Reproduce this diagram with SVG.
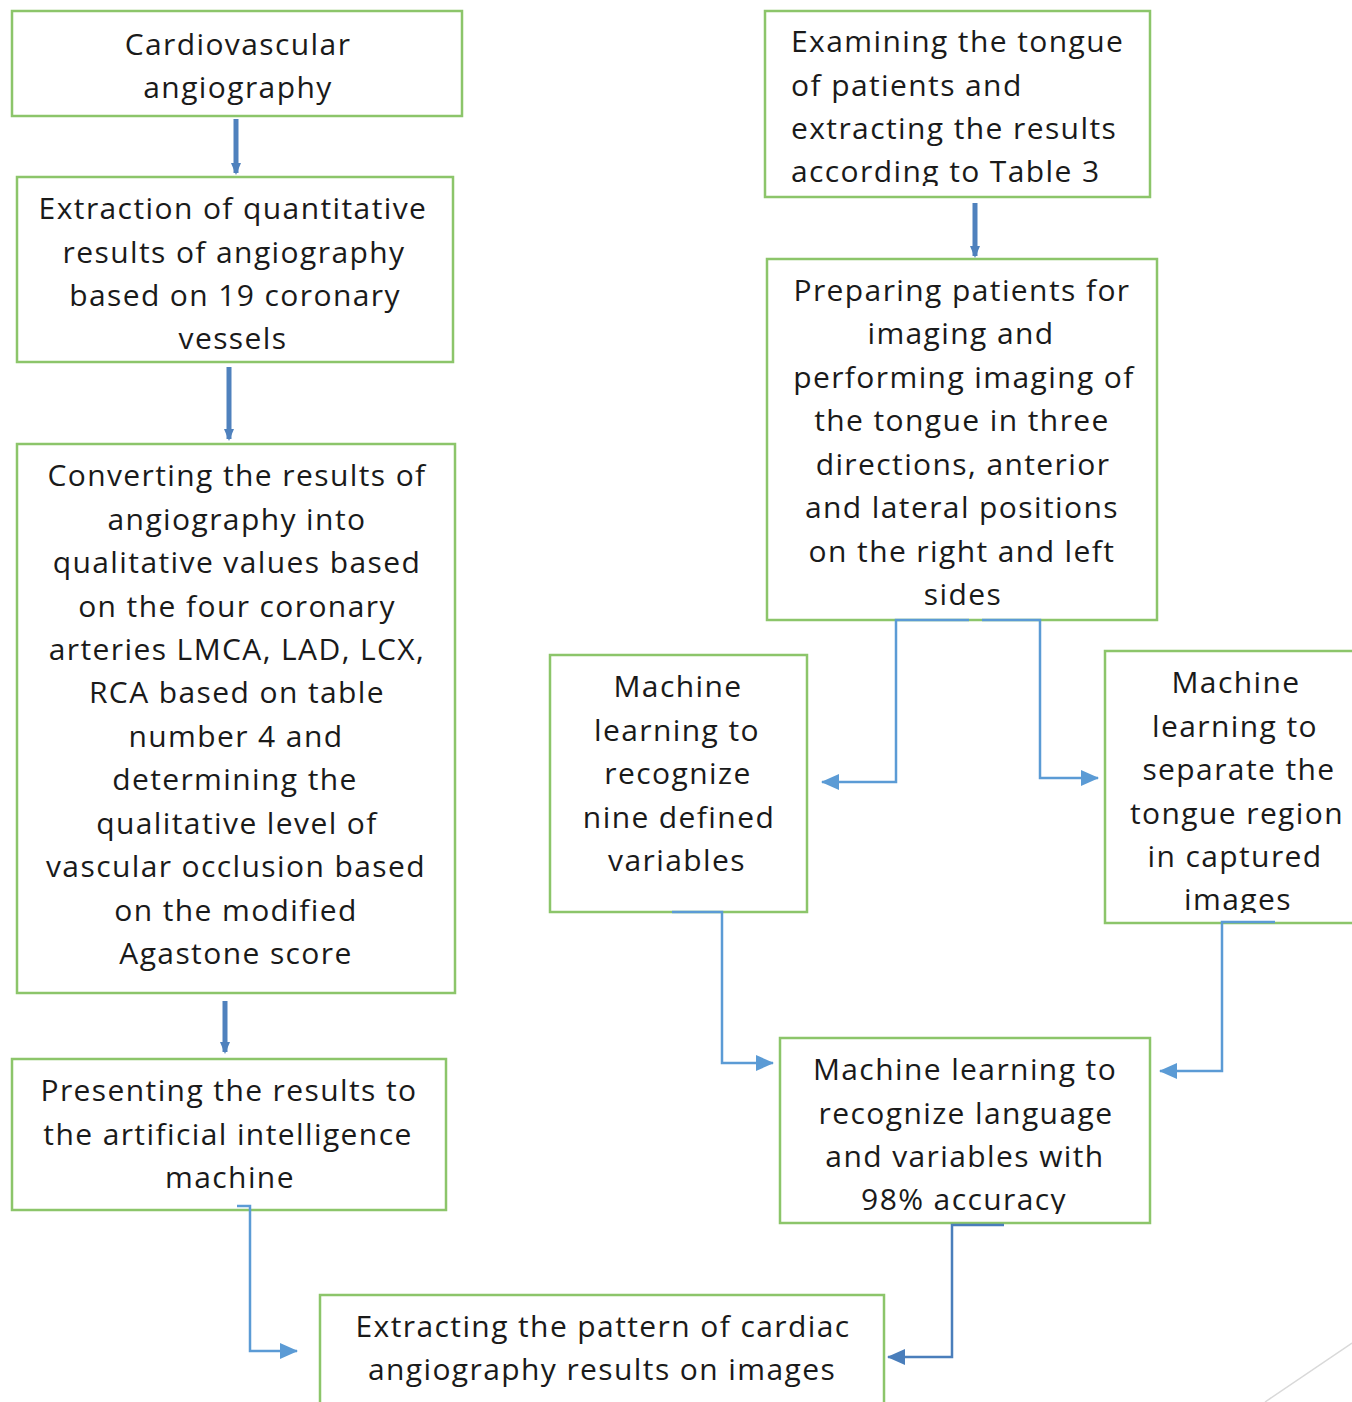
<svg xmlns="http://www.w3.org/2000/svg" width="1352" height="1402" viewBox="0 0 1352 1402">
<style>
.box{fill:#fff;stroke:#8cc56a;stroke-width:2.5}
.t{font-family:"Open Sans",Lato,sans-serif;font-size:30px;letter-spacing:1.4px;fill:#1a1a1a;text-anchor:middle}
.tl{font-family:"Open Sans",Lato,sans-serif;font-size:30px;letter-spacing:1.4px;fill:#1a1a1a}
.thick{stroke:#4f81bd;stroke-width:5;fill:none}
.thin{stroke:#5b9bd5;stroke-width:2.5;fill:none}
.dark{stroke:#4a7ebb;stroke-width:2.5;fill:none}
</style>
<defs>
<marker id="ahThick" markerWidth="12" markerHeight="10" refX="10" refY="5" orient="auto" markerUnits="userSpaceOnUse"><path d="M0,0 L12,5 L0,10 z" fill="#4f81bd"/></marker>
<marker id="ahThin" markerWidth="18" markerHeight="16" refX="17" refY="8" orient="auto" markerUnits="userSpaceOnUse"><path d="M0,0 L18,8 L0,16 z" fill="#5b9bd5"/></marker>
<marker id="ahDark" markerWidth="18" markerHeight="16" refX="17" refY="8" orient="auto" markerUnits="userSpaceOnUse"><path d="M0,0 L18,8 L0,16 z" fill="#4a7ebb"/></marker>
<clipPath id="cR1"><rect x="765" y="11" width="386" height="175"/></clipPath>
<clipPath id="cM2"><rect x="1105" y="651" width="247" height="262"/></clipPath>
<clipPath id="cM3"><rect x="780" y="1038" width="371" height="176"/></clipPath>
</defs>

<g id="n1">
<rect class="box" x="12" y="11" width="450" height="105"/>
<text class="t" x="238" y="55">Cardiovascular</text>
<text class="t" x="238" y="98">angiography</text>
</g>

<g id="n2">
<rect class="box" x="17" y="177" width="436" height="185"/>
<text class="t" x="233" y="219">Extraction of quantitative</text>
<text class="t" x="234" y="263">results of angiography</text>
<text class="t" x="235" y="306">based on 19 coronary</text>
<text class="t" x="233" y="349">vessels</text>
</g>

<g id="n3">
<rect class="box" x="17" y="444" width="438" height="549"/>
<text class="t" x="237" y="486">Converting the results of</text>
<text class="t" x="237" y="530">angiography into</text>
<text class="t" x="237" y="573">qualitative values based</text>
<text class="t" x="237" y="617">on the four coronary</text>
<text class="t" x="237" y="660">arteries LMCA, LAD, LCX,</text>
<text class="t" x="237" y="703">RCA based on table</text>
<text class="t" x="236" y="747">number 4 and</text>
<text class="t" x="235" y="790">determining the</text>
<text class="t" x="237" y="834">qualitative level of</text>
<text class="t" x="236" y="877">vascular occlusion based</text>
<text class="t" x="236" y="921">on the modified</text>
<text class="t" x="236" y="964">Agastone score</text>
</g>

<g id="n4">
<rect class="box" x="12" y="1059" width="434" height="151"/>
<text class="t" x="229" y="1101">Presenting the results to</text>
<text class="t" x="228" y="1145">the artificial intelligence</text>
<text class="t" x="230" y="1188">machine</text>
</g>

<g id="n5">
<rect class="box" x="320" y="1295" width="564" height="120"/>
<text class="t" x="603" y="1337">Extracting the pattern of cardiac</text>
<text class="t" x="602" y="1380">angiography results on images</text>
</g>

<g id="r1">
<rect class="box" x="765" y="11" width="385" height="186"/>
<g clip-path="url(#cR1)">
<text class="tl" x="791" y="52">Examining the tongue</text>
<text class="tl" x="791" y="96">of patients and</text>
<text class="tl" x="791" y="139">extracting the results</text>
<text class="tl" x="791" y="182">according to Table 3</text>
</g>
</g>

<g id="r2">
<rect class="box" x="767" y="259" width="390" height="361"/>
<text class="t" x="962" y="301">Preparing patients for</text>
<text class="t" x="961" y="344">imaging and</text>
<text class="t" x="964" y="388">performing imaging of</text>
<text class="t" x="962" y="431">the tongue in three</text>
<text class="t" x="963" y="475">directions, anterior</text>
<text class="t" x="962" y="518">and lateral positions</text>
<text class="t" x="962" y="562">on the right and left</text>
<text class="t" x="963" y="605">sides</text>
</g>

<g id="m1">
<rect class="box" x="550" y="655" width="257" height="257"/>
<text class="t" x="678" y="697">Machine</text>
<text class="t" x="677" y="741">learning to</text>
<text class="t" x="678" y="784">recognize</text>
<text class="t" x="679" y="828">nine defined</text>
<text class="t" x="677" y="871">variables</text>
</g>

<g id="m2">
<rect class="box" x="1105" y="651" width="260" height="272"/>
<g clip-path="url(#cM2)">
<text class="t" x="1236" y="693">Machine</text>
<text class="t" x="1235" y="737">learning to</text>
<text class="t" x="1239" y="780">separate the</text>
<text class="t" x="1237" y="824">tongue region</text>
<text class="t" x="1235" y="867">in captured</text>
<text class="t" x="1238" y="910">images</text>
</g>
</g>

<g id="m3">
<rect class="box" x="780" y="1038" width="370" height="185"/>
<g clip-path="url(#cM3)">
<text class="t" x="965" y="1080">Machine learning to</text>
<text class="t" x="966" y="1124">recognize language</text>
<text class="t" x="965" y="1167">and variables with</text>
<text class="t" x="964" y="1210">98% accuracy</text>
</g>
</g>

<g id="connectors">
<path class="thick" d="M236,119 L236,173" marker-end="url(#ahThick)"/>
<path class="thick" d="M229,367 L229,439" marker-end="url(#ahThick)"/>
<path class="thick" d="M225,1001 L225,1052" marker-end="url(#ahThick)"/>
<path class="thick" d="M975,203 L975,256" marker-end="url(#ahThick)"/>
<path class="thin" d="M969,620 L896,620 L896,782 L822,782" marker-end="url(#ahThin)"/>
<path class="thin" d="M982,620 L1040,620 L1040,778 L1098,778" marker-end="url(#ahThin)"/>
<path class="thin" d="M672,912 L722,912 L722,1063 L773,1063" marker-end="url(#ahThin)"/>
<path class="thin" d="M1275,922 L1222,922 L1222,1071 L1160,1071" marker-end="url(#ahThin)"/>
<path class="thin" d="M237,1206 L250,1206 L250,1351 L297,1351" marker-end="url(#ahThin)"/>
<path class="dark" d="M1004,1225 L952,1225 L952,1357 L888,1357" marker-end="url(#ahDark)"/>
</g>
<line x1="1265" y1="1402" x2="1352" y2="1343" stroke="#d9d9d9" stroke-width="1.5"/>
</svg>
